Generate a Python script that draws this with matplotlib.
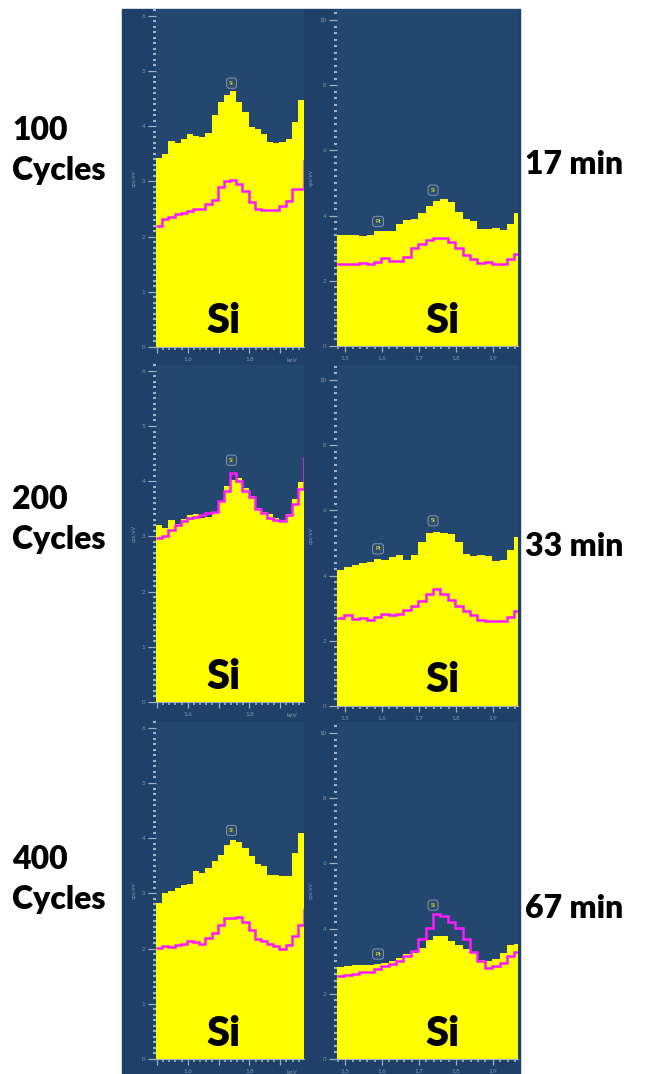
import numpy as np
import matplotlib
matplotlib.use("Agg")
import matplotlib.pyplot as plt
from matplotlib.patches import Rectangle
from matplotlib.ticker import MultipleLocator, FixedLocator

plt.rcParams["font.family"] = ["Lato", "DejaVu Sans"]

# ---- spectra (cps/eV per 20 eV channel) ----
channel_width = 0.02            # keV
left_start = 1.497              # keV, first channel of the cycle spectra
right_start = 1.478             # keV, first channel of the time spectra

cycle_labels = ["100\nCycles", "200\nCycles", "400\nCycles"]
time_labels = ["17 min", "33 min", "67 min"]

# cycle series (left column)
cyc100_fill = [3.42, 3.50, 3.73, 3.70, 3.77, 3.86, 3.83, 3.80, 3.87, 4.20, 4.43, 4.57,
               4.63, 4.43, 4.25, 3.99, 3.95, 3.86, 3.72, 3.69, 3.72, 3.77, 4.07, 4.47]
cyc100_line = [2.20, 2.32, 2.35, 2.41, 2.42, 2.47, 2.50, 2.50, 2.59, 2.67, 2.89, 3.01,
               3.03, 2.96, 2.83, 2.62, 2.50, 2.48, 2.48, 2.48, 2.56, 2.65, 2.86, 2.86, 3.37]
cyc200_fill = [3.20, 3.15, 3.30, 3.23, 3.32, 3.39, 3.41, 3.33, 3.36, 3.45, 3.64, 3.92,
               4.02, 4.05, 3.88, 3.73, 3.52, 3.44, 3.41, 3.33, 3.30, 3.41, 3.67, 3.98]
cyc200_line = [2.97, 3.00, 3.12, 3.21, 3.27, 3.33, 3.36, 3.39, 3.42, 3.45, 3.64, 3.82,
               4.15, 4.00, 3.82, 3.72, 3.50, 3.42, 3.33, 3.30, 3.27, 3.38, 3.58, 3.86, 4.42]
cyc400_fill = [2.83, 3.00, 3.05, 3.10, 3.15, 3.17, 3.41, 3.37, 3.46, 3.59, 3.70, 3.87,
               3.96, 3.93, 3.82, 3.67, 3.53, 3.50, 3.33, 3.34, 3.31, 3.32, 3.73, 4.10]
cyc400_line = [2.01, 2.04, 2.02, 2.06, 2.08, 2.14, 2.12, 2.08, 2.19, 2.28, 2.42, 2.56,
               2.55, 2.58, 2.49, 2.33, 2.17, 2.13, 2.08, 2.04, 1.99, 2.07, 2.22, 2.43, 2.70]

# time series (right column)
t17_fill = [3.42, 3.40, 3.40, 3.38, 3.40, 3.52, 3.52, 3.53, 3.74, 3.86, 3.90, 4.08, 4.29,
            4.46, 4.52, 4.41, 4.12, 3.91, 3.83, 3.59, 3.59, 3.61, 3.57, 3.74, 4.08]
t17_line = [2.51, 2.51, 2.51, 2.56, 2.52, 2.59, 2.70, 2.62, 2.62, 2.73, 3.00, 3.14, 3.24,
            3.31, 3.30, 3.18, 3.00, 2.80, 2.66, 2.54, 2.57, 2.52, 2.51, 2.67, 2.83]
t33_fill = [4.17, 4.26, 4.33, 4.38, 4.43, 4.51, 4.48, 4.58, 4.63, 4.48, 4.63, 5.04, 5.32,
            5.34, 5.32, 5.29, 5.04, 4.66, 4.61, 4.63, 4.61, 4.45, 4.48, 4.80, 5.17]
t33_line = [2.71, 2.78, 2.68, 2.71, 2.65, 2.73, 2.81, 2.79, 2.81, 2.96, 3.08, 3.23, 3.44,
            3.60, 3.44, 3.26, 3.08, 2.91, 2.78, 2.65, 2.62, 2.60, 2.60, 2.73, 2.91]
t67_fill = [2.82, 2.85, 2.88, 2.88, 2.88, 2.90, 2.93, 3.00, 3.11, 3.21, 3.26, 3.42, 3.65,
            3.77, 3.77, 3.62, 3.49, 3.36, 3.29, 3.03, 3.00, 3.06, 3.26, 3.49, 3.52]
t67_line = [2.56, 2.59, 2.62, 2.67, 2.67, 2.75, 2.85, 2.90, 3.00, 3.16, 3.31, 3.67, 4.03,
            4.44, 4.39, 4.21, 4.03, 3.67, 3.29, 3.00, 2.80, 2.85, 2.95, 3.16, 3.29]

# peak markers: (element, energy keV, height cps/eV)
cyc_markers = [[("Si", 1.742, 4.78)], [("Si", 1.742, 4.38)], [("Si", 1.742, 4.14)]]
time_markers = [[("Si", 1.738, 4.78), ("Pt", 1.589, 3.82)],
                [("Si", 1.738, 5.68), ("Pt", 1.589, 4.82)],
                [("Si", 1.738, 4.72), ("Pt", 1.589, 3.22)]]

cyc_fill = [cyc100_fill, cyc200_fill, cyc400_fill]
cyc_line = [cyc100_line, cyc200_line, cyc400_line]
time_fill = [t17_fill, t33_fill, t67_fill]
time_line = [t17_line, t33_line, t67_line]

# ---- styling ----
W, H = 648, 1074
BG = "#1f4068"
FACE = "#23476f"
YELLOW = "#ffff00"
MAGENTA = "#ff19ff"
TICK = "#9fb0c3"
TLAB = "#8396ad"

fig = plt.figure(figsize=(W / 100, H / 100), dpi=100)
fig.patches.append(Rectangle((122 / W, 0), (520 - 122) / W, 1 - 9 / H,
                             transform=fig.transFigure, color=BG, zorder=-5))


def add_px_axes(x0, x1, ytop, ybot):
    ax = fig.add_axes([x0 / W, 1 - ybot / H, (x1 - x0) / W, (ybot - ytop) / H])
    ax.set_zorder(2)
    return ax


def style_axes(ax, ymax, ymajor, yminor, xlim, xticks, xlabels, keV):
    ax.set_facecolor(FACE)
    ax.set_xlim(*xlim)
    ax.set_ylim(0, ymax)
    for s in ("top", "right", "left"):
        ax.spines[s].set_visible(False)
    ax.spines["bottom"].set_color(TICK)
    ax.spines["bottom"].set_linewidth(0.8)
    ax.yaxis.set_major_locator(MultipleLocator(ymajor))
    ax.yaxis.set_minor_locator(MultipleLocator(yminor))
    ax.xaxis.set_major_locator(FixedLocator(xticks))
    ax.xaxis.set_minor_locator(MultipleLocator(0.02))
    ax.set_xticklabels(xlabels)
    ax.tick_params(axis="y", which="major", length=6, width=0.9, color=TICK,
                   labelsize=4.5, labelcolor=TLAB, pad=1.5)
    ax.tick_params(axis="y", which="minor", length=2.5, width=1.6, color=TICK)
    ax.tick_params(axis="x", which="major", length=4, width=0.9, color=TICK,
                   labelsize=4.5, labelcolor=TLAB, pad=3)
    ax.tick_params(axis="x", which="minor", length=2.5, width=1.2, color=TICK)
    ax.set_ylabel("cps/eV", fontsize=4, color=TLAB, labelpad=4)
    if keV:
        ax.text(0.92, -0.032, "keV", transform=ax.transAxes, fontsize=4.5,
                color=TLAB, ha="center", va="top")


def draw_marker(ax, name, x, y):
    ax.text(x, y, name, fontsize=4.2, color=YELLOW, ha="center", va="center",
            zorder=6, bbox=dict(boxstyle="round,pad=0.45", fc="#2c4c72",
                                ec="#8196ad", lw=0.7))


# rows: (zero line left, zero line right, panel top)
rows = [(347, 346, 9), (702, 706, 365), (1059, 1059, 722)]
left_px, right_px = (156, 304), (337, 518)
left_scale, right_scale = 55.2, 32.6     # px per cps/eV

left_edges = left_start + channel_width * np.arange(26)
right_edges = right_start + channel_width * np.arange(26)

for i, (y0l, y0r, top) in enumerate(rows):
    # cycles column
    ax = add_px_axes(left_px[0], left_px[1], top, y0l)
    fill = np.array(cyc_fill[i])
    line = np.array(cyc_line[i])
    ax.stairs(fill, left_edges[:len(fill) + 1], fill=True, color=YELLOW,
              baseline=0, zorder=2)
    ax.stairs(line, left_edges[:len(line) + 1], baseline=None, color=MAGENTA,
              lw=1.8, zorder=3)
    style_axes(ax, (y0l - top) / left_scale, 1, 0.1,
               (left_edges[0], left_edges[24]), [1.5, 1.6, 1.7, 1.8, 1.9],
               ["", "1.6", "", "1.8", ""], True)
    for name, x, y in cyc_markers[i]:
        draw_marker(ax, name, x, y)
    ax.text(0.455, 0.04, "Si", transform=ax.transAxes, fontsize=30,
            fontweight="heavy", color="black", ha="center", va="baseline", zorder=5)

    # time column
    ax = add_px_axes(right_px[0], right_px[1], top, y0r)
    fill = np.array(time_fill[i])
    line = np.array(time_line[i])
    ax.stairs(fill, right_edges[:len(fill) + 1], fill=True, color=YELLOW,
              baseline=0, zorder=2)
    ax.stairs(line, right_edges[:len(line) + 1], baseline=None, color=MAGENTA,
              lw=1.8, zorder=3)
    style_axes(ax, (y0r - top) / right_scale, 2, 0.2, (1.478, 1.968),
               [1.5, 1.6, 1.7, 1.8, 1.9], ["1.5", "1.6", "1.7", "1.8", "1.9"], False)
    for name, x, y in time_markers[i]:
        draw_marker(ax, name, x, y)
    ax.text(0.585, 0.04, "Si", transform=ax.transAxes, fontsize=30,
            fontweight="heavy", color="black", ha="center", va="baseline", zorder=5)

# row captions
cycle_base = [140, 509, 869]
time_base = [174, 556, 918]
for lab, yb in zip(cycle_labels, cycle_base):
    num, word = lab.split("\n")
    fig.text(12 / W, 1 - yb / H, num, fontsize=23, fontweight="heavy", ha="left",
             va="baseline")
    fig.text(12 / W, 1 - (yb + 40) / H, word, fontsize=23, fontweight="heavy",
             ha="left", va="baseline")
for lab, yb in zip(time_labels, time_base):
    fig.text(525 / W, 1 - yb / H, lab, fontsize=23, fontweight="heavy", ha="left",
             va="baseline")

fig.savefig("out.png", dpi=100, facecolor="white")
